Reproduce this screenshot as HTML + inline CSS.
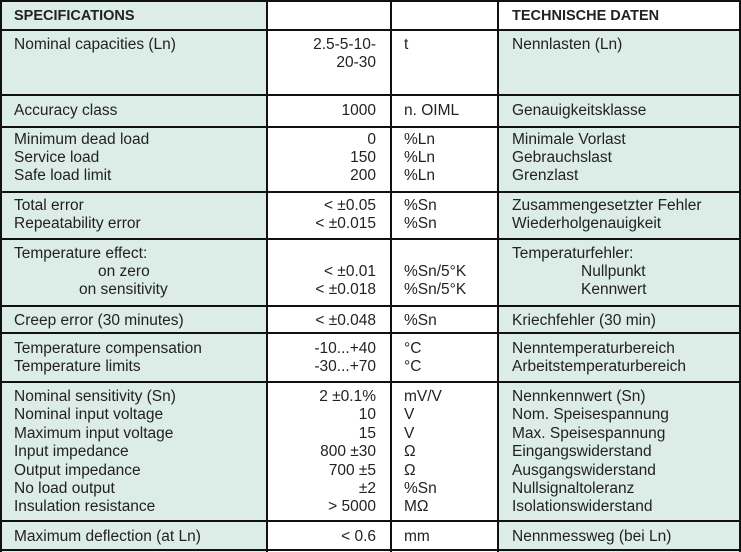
<html><head><style>
body{margin:0;width:741px;height:552px;background:#fff;position:relative;overflow:hidden;font-family:"Liberation Sans",sans-serif;font-size:15.5px;color:#222}
.g{position:absolute;background:#dcece6}
.h{position:absolute;left:0;width:741px;height:2px;background:#111}
.v{position:absolute;top:0;height:552px;width:2px;background:#111}
.t{position:absolute;white-space:nowrap;line-height:18px}
.r{position:absolute;right:365px;text-align:right;white-space:nowrap;line-height:18px}
.b{font-weight:bold;font-size:14.5px}
</style></head><body>
<div class="g" style="left:0;top:0;width:267px;height:552px"></div>
<div class="g" style="left:498px;top:0;width:243px;height:552px"></div>
<div class="g" style="left:498px;top:0;width:243px;height:30px;background:#fff"></div>
<div class="h" style="top:0"></div><div class="h" style="top:29px"></div><div class="h" style="top:94px"></div><div class="h" style="top:126px"></div><div class="h" style="top:191px"></div><div class="h" style="top:238px"></div><div class="h" style="top:305px"></div><div class="h" style="top:332px"></div><div class="h" style="top:381px"></div><div class="h" style="top:520px"></div><div class="h" style="top:549px"></div>
<div class="v" style="left:0"></div><div class="v" style="left:266px"></div><div class="v" style="left:390px"></div><div class="v" style="left:497px"></div><div class="v" style="left:739px"></div>

<div class="t b" style="left:14px;top:7px">SPECIFICATIONS</div>
<div class="t b" style="left:512px;top:7px">TECHNISCHE DATEN</div>

<div class="t" style="left:14px;top:36px">Nominal capacities (Ln)</div>
<div class="r" style="top:36px">2.5-5-10-<br>20-30</div>
<div class="t" style="left:404px;top:36px">t</div>
<div class="t" style="left:512px;top:36px">Nennlasten (Ln)</div>

<div class="t" style="left:14px;top:102px">Accuracy class</div>
<div class="r" style="top:102px">1000</div>
<div class="t" style="left:404px;top:102px">n. OIML</div>
<div class="t" style="left:512px;top:102px">Genauigkeitsklasse</div>

<div class="t" style="left:14px;top:131px">Minimum dead load<br>Service load<br>Safe load limit</div>
<div class="r" style="top:131px">0<br>150<br>200</div>
<div class="t" style="left:404px;top:131px">%Ln<br>%Ln<br>%Ln</div>
<div class="t" style="left:512px;top:131px">Minimale Vorlast<br>Gebrauchslast<br>Grenzlast</div>

<div class="t" style="left:14px;top:197px">Total error<br>Repeatability error</div>
<div class="r" style="top:197px">&lt; ±0.05<br>&lt; ±0.015</div>
<div class="t" style="left:404px;top:197px">%Sn<br>%Sn</div>
<div class="t" style="left:512px;top:197px">Zusammengesetzter Fehler<br>Wiederholgenauigkeit</div>

<div class="t" style="left:14px;top:245px">Temperature effect:</div>
<div class="t" style="left:98px;top:263px">on zero</div>
<div class="t" style="left:79px;top:281px">on sensitivity</div>
<div class="r" style="top:263px">&lt; ±0.01<br>&lt; ±0.018</div>
<div class="t" style="left:404px;top:263px">%Sn/5°K<br>%Sn/5°K</div>
<div class="t" style="left:512px;top:245px">Temperaturfehler:</div>
<div class="t" style="left:581px;top:263px">Nullpunkt</div>
<div class="t" style="left:581px;top:281px">Kennwert</div>

<div class="t" style="left:14px;top:312px">Creep error (30 minutes)</div>
<div class="r" style="top:312px">&lt; ±0.048</div>
<div class="t" style="left:404px;top:312px">%Sn</div>
<div class="t" style="left:512px;top:312px">Kriechfehler (30 min)</div>

<div class="t" style="left:14px;top:340px">Temperature compensation<br>Temperature limits</div>
<div class="r" style="top:340px">-10...+40<br>-30...+70</div>
<div class="t" style="left:404px;top:340px">°C<br>°C</div>
<div class="t" style="left:512px;top:340px">Nenntemperaturbereich<br>Arbeitstemperaturbereich</div>

<div class="t" style="left:14px;top:388px;line-height:18.4px">Nominal sensitivity (Sn)<br>Nominal input voltage<br>Maximum input voltage<br>Input impedance<br>Output impedance<br>No load output<br>Insulation resistance</div>
<div class="r" style="top:388px;line-height:18.4px">2 ±0.1%<br>10<br>15<br>800 ±30<br>700 ±5<br>±2<br>&gt; 5000</div>
<div class="t" style="left:404px;top:388px;line-height:18.4px">mV/V<br>V<br>V<br>Ω<br>Ω<br>%Sn<br>MΩ</div>
<div class="t" style="left:512px;top:388px;line-height:18.4px">Nennkennwert (Sn)<br>Nom. Speisespannung<br>Max. Speisespannung<br>Eingangswiderstand<br>Ausgangswiderstand<br>Nullsignaltoleranz<br>Isolationswiderstand</div>

<div class="t" style="left:14px;top:528px">Maximum deflection (at Ln)</div>
<div class="r" style="top:528px">&lt; 0.6</div>
<div class="t" style="left:404px;top:528px">mm</div>
<div class="t" style="left:512px;top:528px">Nennmessweg (bei Ln)</div>
</body></html>
